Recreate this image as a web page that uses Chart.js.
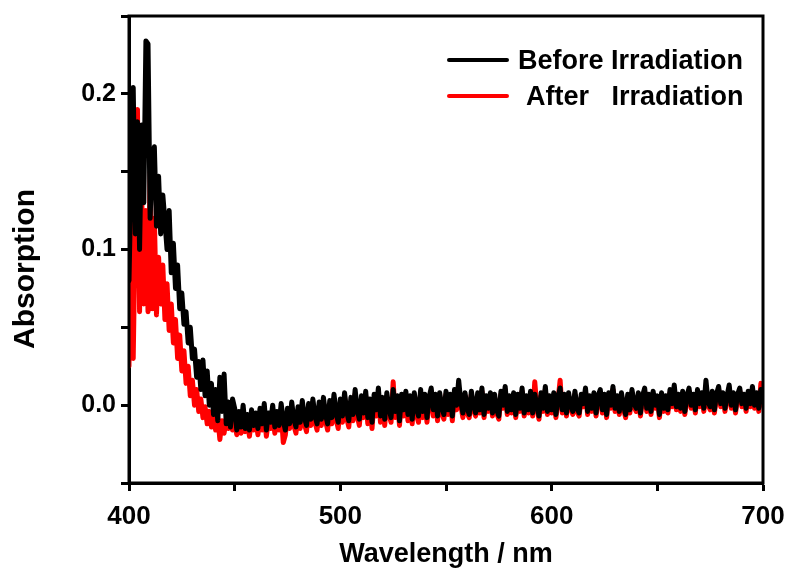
<!DOCTYPE html>
<html>
<head>
<meta charset="utf-8">
<script src="https://cdn.jsdelivr.net/npm/chart.js@4.4.0/dist/chart.umd.min.js"></script>
<style>
  html, body { margin: 0; padding: 0; background: #fff; }
  #wrap { position: relative; width: 787px; height: 574px; }
  .txt { position: absolute; font-family: "Liberation Sans", Arial, sans-serif; font-weight: bold; color: #000; white-space: pre; line-height: 1; }
  .sw { position: absolute; width: 62px; height: 4px; border-radius: 2px; }
  #ytitle { left: -76px; top: 254px; width: 200px; height: 30px; font-size: 30px; text-align: center; transform: rotate(-90deg); }
</style>
</head>
<body>
<div id="wrap">
  <canvas id="chart" width="787" height="574"></canvas>
  <div class="txt" id="ytitle">Absorption</div>
  <div class="sw" style="left:447px; top:58px; background:#000;"></div>
  <div class="txt" style="left:518px; top:47px; font-size:27px;">Before Irradiation</div>
  <div class="sw" style="left:447px; top:94px; background:#ff0000;"></div>
  <div class="txt" style="left:526px; top:83px; font-size:27px;">After   Irradiation</div>
</div>
<script>
// sampling grid: 400-700 nm, 1 nm step
const startNm = 400;

// Before irradiation (black)
const beforeAbs = [
  0.080, 0.150, 0.204, 0.110, 0.182, 0.100, 0.180, 0.130, 0.234, 0.232,
  0.120, 0.160, 0.166, 0.115, 0.147, 0.110, 0.135, 0.118, 0.100, 0.125,
  0.085, 0.104, 0.075, 0.090, 0.062, 0.072, 0.052, 0.060, 0.040, 0.050,
  0.030, 0.036, 0.018, 0.028, 0.010, 0.029, 0.006, 0.022, 0.000, 0.014,
  -0.006, 0.010, -0.010, 0.018, -0.004, 0.020, -0.012, 0.002, -0.014, 0.004,
  -0.002, -0.016, -0.004, -0.014, 0.000, -0.015, -0.006, -0.016, -0.003, -0.013, -0.005,
  -0.015, -0.002, -0.012, 0.001, -0.016, -0.005, -0.011, 0.000, -0.014, -0.004,
  -0.013, 0.001, -0.010, -0.016, -0.002, -0.012, 0.002, -0.009, -0.014, -0.001,
  -0.011, 0.003, -0.008, -0.013, 0.001, -0.009, 0.004, -0.007, -0.012, 0.002,
  -0.009, 0.005, -0.006, -0.012, 0.003, -0.008, 0.007, -0.005, -0.011, 0.004,
  -0.007, 0.008, -0.004, -0.010, 0.005, -0.006, 0.010, -0.003, -0.009, 0.006,
  -0.005, 0.009, -0.008, 0.004, -0.011, 0.007, -0.003, 0.011, -0.007, 0.005,
  -0.009, 0.008, -0.002, -0.008, 0.010, -0.004, 0.006, -0.010, 0.007, -0.003,
  0.009, -0.006, 0.006, -0.009, 0.008, -0.002, -0.007, 0.010, -0.004, 0.007,
  -0.008, 0.005, 0.011, -0.003, 0.007, -0.007, 0.008, -0.001, -0.006, 0.009,
  -0.003, 0.007, -0.007, 0.010, 0.000, 0.016, 0.002, -0.005, 0.008, -0.002,
  -0.006, 0.009, 0.000, -0.005, 0.008, -0.003, 0.011, -0.006, 0.006, -0.002,
  0.008, -0.005, 0.007, -0.003, -0.007, 0.009, 0.000, 0.012, -0.004, 0.006,
  -0.003, 0.008, -0.006, 0.007, -0.002, 0.011, -0.005, 0.006, -0.003, 0.009,
  -0.005, 0.007, 0.000, -0.007, 0.008, -0.002, 0.012, -0.004, 0.006, -0.003,
  0.008, -0.006, 0.005, 0.011, -0.003, 0.007, -0.005, 0.008, 0.000, -0.004,
  0.009, -0.002, -0.005, 0.007, 0.001, 0.011, -0.004, 0.006, -0.002, 0.008,
  -0.005, 0.006, 0.010, -0.003, 0.007, -0.006, 0.008, 0.000, 0.012, -0.002,
  0.006, -0.004, 0.008, 0.000, -0.006, 0.007, -0.003, 0.010, 0.001, -0.002,
  0.008, -0.005, 0.006, 0.011, -0.002, 0.007, -0.004, 0.009, 0.000, 0.006,
  -0.006, 0.008, -0.002, 0.006, -0.003, 0.010, 0.001, 0.013, -0.001, 0.007,
  -0.002, 0.009, -0.004, 0.006, 0.011, 0.000, 0.007, -0.003, 0.010, 0.001,
  0.008, -0.002, 0.016, 0.002, -0.001, 0.009, -0.003, 0.007, 0.012, 0.001,
  0.008, -0.002, 0.006, 0.013, 0.000, 0.008, -0.003, 0.007, 0.011, 0.001,
  0.007, -0.002, 0.009, 0.001, 0.012, 0.000, 0.008, -0.002, 0.010, 0.002
];

// After irradiation (red)
const afterAbs = [
  0.025, 0.182, 0.030, 0.120, 0.190, 0.060, 0.135, 0.065, 0.125, 0.060,
  0.150, 0.062, 0.120, 0.058, 0.095, 0.065, 0.090, 0.055, 0.078, 0.048,
  0.065, 0.040, 0.055, 0.030, 0.045, 0.022, 0.035, 0.014, 0.025, 0.006,
  0.016, 0.000, 0.010, -0.004, 0.004, -0.008, -0.001, -0.012, -0.004, -0.014,
  -0.006, -0.016, -0.008, -0.022, -0.010, -0.018, -0.009, -0.015, -0.008, -0.016,
  -0.010, -0.019, -0.009, -0.018, -0.007, -0.017, -0.010, -0.020, -0.008, -0.016, -0.009,
  -0.019, -0.007, -0.016, -0.005, -0.020, -0.009, -0.015, -0.006, -0.018, -0.008,
  -0.016, -0.004, -0.024, -0.019, -0.006, -0.015, -0.003, -0.013, -0.018, -0.005,
  -0.015, -0.001, -0.012, -0.017, -0.003, -0.013, 0.000, -0.011, -0.016, -0.002,
  -0.013, 0.002, -0.010, -0.016, -0.001, -0.012, 0.003, -0.009, -0.015, 0.000,
  -0.011, 0.005, -0.008, -0.014, 0.002, -0.010, 0.007, -0.007, -0.013, 0.003,
  -0.008, 0.006, -0.012, 0.001, -0.015, 0.004, -0.007, 0.008, -0.011, 0.002,
  -0.013, 0.005, -0.006, -0.011, 0.015, -0.008, 0.003, -0.013, 0.005, -0.007,
  0.006, -0.010, 0.003, -0.012, 0.006, -0.006, -0.011, 0.008, -0.008, 0.004,
  -0.011, 0.002, 0.009, -0.007, 0.004, -0.010, 0.006, -0.005, -0.009, 0.007,
  -0.006, 0.005, -0.010, 0.008, -0.003, 0.011, 0.000, -0.008, 0.006, -0.005,
  -0.008, 0.007, -0.003, -0.007, 0.006, -0.005, 0.009, -0.008, 0.004, -0.004,
  0.006, -0.007, 0.005, -0.005, -0.009, 0.007, -0.002, 0.010, -0.006, 0.004,
  -0.005, 0.006, -0.008, 0.005, -0.004, 0.009, -0.007, 0.004, -0.005, 0.007,
  -0.007, 0.015, -0.002, -0.009, 0.006, -0.004, 0.010, -0.006, 0.004, -0.005,
  0.006, -0.008, 0.003, 0.016, -0.005, 0.005, -0.007, 0.006, -0.002, -0.006,
  0.007, -0.004, -0.007, 0.005, -0.001, 0.009, -0.006, 0.004, -0.004, 0.006,
  -0.007, 0.004, 0.008, -0.005, 0.005, -0.008, 0.006, -0.002, 0.010, -0.004,
  0.004, -0.006, 0.006, -0.002, -0.008, 0.005, -0.005, 0.008, -0.001, -0.004,
  0.006, -0.007, 0.004, 0.009, -0.004, 0.005, -0.006, 0.007, -0.002, 0.004,
  -0.008, 0.006, -0.004, 0.004, -0.005, 0.008, -0.001, 0.011, -0.003, 0.005,
  -0.004, 0.007, -0.006, 0.004, 0.009, -0.002, 0.005, -0.005, 0.008, -0.001,
  0.006, -0.004, 0.012, 0.000, -0.003, 0.007, -0.005, 0.005, 0.010, -0.001,
  0.006, -0.004, 0.004, 0.011, -0.002, 0.006, -0.005, 0.005, 0.009, -0.001,
  0.005, -0.004, 0.007, -0.001, 0.010, -0.002, 0.006, -0.004, 0.014, 0.000
];

const seriesNames = ['Before Irradiation', 'After   Irradiation'];
const xLabels = [400, 500, 600, 700];
const yLabels = [0.0, 0.1, 0.2];

const wavelengths = beforeAbs.map((_, i) => startNm + i);
const toPoints = arr => arr.map((v, i) => ({ x: wavelengths[i], y: v }));

const fontFamily = "'Liberation Sans', Arial, sans-serif";

// closes the box on top and right
const frame = {
  id: 'frame',
  afterDatasetsDraw(c) {
    const a = c.chartArea;
    const ctx = c.ctx;
    ctx.save();
    ctx.strokeStyle = '#000';
    ctx.lineWidth = 3;
    ctx.strokeRect(a.left, a.top, a.right - a.left, a.bottom - a.top);
    ctx.restore();
  }
};

new Chart(document.getElementById('chart'), {
  type: 'line',
  data: {
    datasets: [
      {
        label: seriesNames[0],
        data: toPoints(beforeAbs),
        borderColor: '#000000',
        borderWidth: 5,
        pointRadius: 0,
        borderJoinStyle: 'round',
        borderCapStyle: 'round'
      },
      {
        label: seriesNames[1],
        data: toPoints(afterAbs),
        borderColor: '#ff0000',
        borderWidth: 5,
        pointRadius: 0,
        borderJoinStyle: 'round',
        borderCapStyle: 'round'
      }
    ]
  },
  options: {
    responsive: false,
    animation: false,
    layout: { padding: { top: 16, right: 24, left: 0, bottom: 0 } },
    plugins: {
      legend: { display: false },
      tooltip: { enabled: false }
    },
    scales: {
      x: {
        type: 'linear',
        min: 400,
        max: 700,
        afterFit: s => { s.height = 91; s.paddingLeft = 0; s.paddingRight = 0; },
        border: { color: '#000', width: 3 },
        grid: { drawOnChartArea: false, tickLength: 8, tickWidth: 3, tickColor: '#000' },
        ticks: {
          stepSize: 50,
          color: '#000',
          padding: 10,
          maxRotation: 0,
          font: { family: fontFamily, size: 26, weight: 'bold' },
          callback: v => xLabels.includes(v) ? String(v) : ''
        },
        title: {
          display: true,
          text: 'Wavelength / nm',
          color: '#000',
          padding: { top: 4, bottom: 3 },
          font: { family: fontFamily, size: 27, weight: 'bold' }
        }
      },
      y: {
        min: -0.05,
        max: 0.25,
        afterFit: s => { s.width = 129; s.paddingTop = 0; s.paddingBottom = 0; },
        border: { color: '#000', width: 3 },
        grid: { drawOnChartArea: false, tickLength: 8, tickWidth: 3, tickColor: '#000' },
        ticks: {
          stepSize: 0.05,
          color: '#000',
          padding: 5,
          font: { family: fontFamily, size: 25, weight: 'bold' },
          callback: v => {
            const r = Math.round(v * 100) / 100;
            return yLabels.includes(r) ? r.toFixed(1) : '';
          }
        }
      }
    }
  },
  plugins: [frame]
});
</script>
</body>
</html>
